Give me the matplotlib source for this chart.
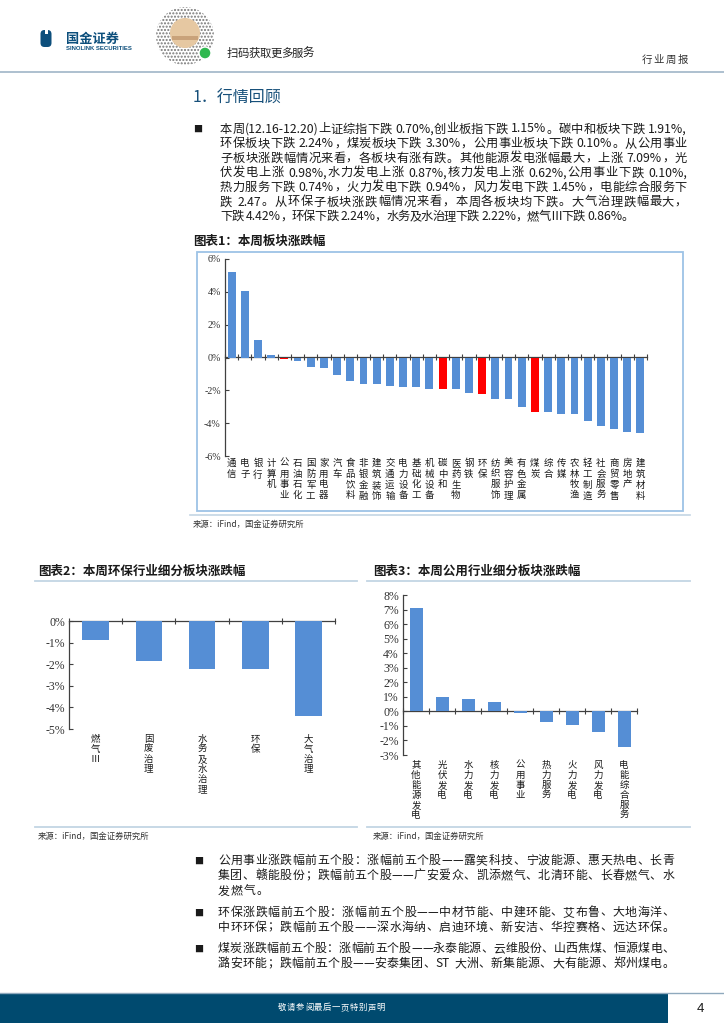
import numpy as np
import matplotlib
matplotlib.use('Agg')
import matplotlib.pyplot as plt
from matplotlib.patches import Rectangle, Circle, FancyBboxPatch

plt.rcParams['font.family'] = ['Noto Sans CJK SC', 'DejaVu Sans']

# 图表1：本周板块涨跌幅（%）
cats1 = ['通信', '电子', '银行', '计算机', '公用事业', '石油石化', '国防军工', '家用电器',
         '汽车', '食品饮料', '非银金融', '建筑装饰', '交通运输', '电力设备', '基础化工', '机械设备',
         '碳中和', '医药生物', '钢铁', '环保', '纺织服饰', '美容护理', '有色金属', '煤炭',
         '综合', '传媒', '农林牧渔', '轻工制造', '社会服务', '商贸零售', '房地产', '建筑材料']
vals1 = [5.18, 4.04, 1.06, 0.18, -0.10, -0.20, -0.57, -0.67,
         -1.06, -1.41, -1.61, -1.62, -1.76, -1.78, -1.82, -1.90,
         -1.91, -1.94, -2.18, -2.24, -2.51, -2.53, -2.99, -3.30,
         -3.34, -3.42, -3.43, -3.89, -4.19, -4.33, -4.55, -4.62]
hot1 = ['公用事业', '碳中和', '环保', '煤炭']

# 图表2：环保细分板块
cats2 = ['燃气Ⅲ', '固废治理', '水务及水治理', '环保', '大气治理']
vals2 = [-0.86, -1.83, -2.22, -2.24, -4.42]

# 图表3：公用细分板块
cats3 = ['其他能源发电', '光伏发电', '水力发电', '核力发电', '公用事业',
         '热力服务', '火力发电', '风力发电', '电能综合服务']
vals3 = [7.09, 0.98, 0.87, 0.62, -0.10, -0.74, -0.94, -1.45, -2.47]

para1 = ['本周(12.16-12.20)上证综指下跌 0.70%,创业板指下跌 1.15%。碳中和板块下跌 1.91%,',
         '环保板块下跌 2.24%，煤炭板块下跌 3.30%，公用事业板块下跌 0.10%。从公用事业',
         '子板块涨跌幅情况来看，各板块有涨有跌。其他能源发电涨幅最大，上涨 7.09%，光',
         '伏发电上涨 0.98%,水力发电上涨 0.87%,核力发电上涨 0.62%,公用事业下跌 0.10%,',
         '热力服务下跌 0.74%，火力发电下跌 0.94%，风力发电下跌 1.45%，电能综合服务下',
         '跌 2.47。从环保子板块涨跌幅情况来看，本周各板块均下跌。大气治理跌幅最大，',
         '下跌 4.42%，环保下跌 2.24%，水务及水治理下跌 2.22%，燃气Ⅲ下跌 0.86%。']
bullets = [
    ['公用事业涨跌幅前五个股：涨幅前五个股——露笑科技、宁波能源、惠天热电、长青',
     '集团、赣能股份；跌幅前五个股——广安爱众、凯添燃气、北清环能、长春燃气、水',
     '发燃气。'],
    ['环保涨跌幅前五个股：涨幅前五个股——中材节能、中建环能、艾布鲁、大地海洋、',
     '中环环保；跌幅前五个股——深水海纳、启迪环境、新安洁、华控赛格、远达环保。'],
    ['煤炭涨跌幅前五个股：涨幅前五个股——永泰能源、云维股份、山西焦煤、恒源煤电、',
     '潞安环能；跌幅前五个股——安泰集团、ST 大洲、新集能源、大有能源、郑州煤电。'],
]

W, H = 724, 1024
BLUE = '#558ed5'
NAVY = '#004a6f'
TXT = '#1a1a1a'
LINE = '#c3d5e4'

fig = plt.figure(figsize=(7.24, 10.24), dpi=100)
page = fig.add_axes([0, 0, 1, 1], zorder=0)
page.set_xlim(0, W)
page.set_ylim(H, 0)
page.axis('off')
renderer = fig.canvas.get_renderer()


def tokens(s):
    out, buf = [], ''
    for ch in s:
        if ord(ch) < 128 and ch != ' ':
            buf += ch
        else:
            if buf:
                out.append(buf)
                buf = ''
            out.append(ch)
    if buf:
        out.append(buf)
    return out


def line(s, x0, x1, y, size, color=TXT, **kw):
    # 两端对齐：逐字排布
    parts = tokens(s)
    objs, widths = [], []
    for p in parts:
        if p == ' ':
            objs.append(None)
            widths.append(size * 0.3 * 100 / 72)
        else:
            t = page.text(0, y, p, fontsize=size, color=color, va='baseline', ha='left', **kw)
            objs.append(t)
            widths.append(t.get_window_extent(renderer).width)
    gap = (x1 - x0 - sum(widths)) / max(len(parts) - 1, 1)
    x = x0
    for t, w in zip(objs, widths):
        if t is not None:
            t.set_x(x)
        x += w + gap


# ---- 页眉 ----
page.add_patch(FancyBboxPatch((40.5, 30), 11, 17, boxstyle='round,pad=0,rounding_size=4',
                              fc='#0d4f7c', ec='none'))
page.add_patch(Rectangle((44.5, 29), 3, 5, fc='white', ec='none'))
page.text(66, 43, '国金证券', fontsize=9.5, fontweight='bold', color='#0d4f7c', va='baseline')
page.text(66, 50, 'SINOLINK SECURITIES', fontsize=4.3, fontweight='bold', color='#0d4f7c',
          va='baseline', family='Liberation Sans')
page.add_patch(Circle((185, 36), 29, fc='white', ec='#777777', hatch='.....', lw=0))
page.add_patch(Circle((185, 33), 15, fc='#e6c8a2', ec='none'))
page.add_patch(Rectangle((172, 36), 26, 4, fc='#c9a27a', ec='none'))
page.add_patch(Circle((205, 53), 6, fc='#2fb84f', ec='white', lw=1))
line('扫码获取更多服务', 227, 314, 57, 8.2, color='#222222')
line('行业周报', 642, 688, 63, 7.5, color='#333333')
page.plot([0, W], [72, 72], color='#9fb5c7', lw=1.2)

# ---- 正文 ----
page.text(193, 102.5, '1．行情回顾', fontsize=11.5, color='#17507a', va='baseline')
page.text(193, 132, '■', fontsize=6.5, color=TXT, va='baseline')
for i, s in enumerate(para1):
    x1 = 634 if i == len(para1) - 1 else 687
    line(s, 220, x1, 132.5 + i * 14.6, 8.8)

# ---- 图表1 ----
page.text(193, 245, '图表1：本周板块涨跌幅', fontsize=9, fontweight='bold', color=TXT,
          va='baseline', style='italic')
page.add_patch(Rectangle((197, 252), 486, 259, fc='none', ec='#9dc3e6', lw=1.3))
page.plot([190, 690], [515, 515], color=LINE, lw=1.2)
page.text(193, 527, '来源：iFind，国金证券研究所', fontsize=6, color='#333333', va='baseline')


def bar_chart(rect, cats, vals, colors, ylim, step, tsize, lsize, lpad, width, lsp):
    l, t, r, b = rect
    ax = fig.add_axes([l / W, 1 - b / H, (r - l) / W, (b - t) / H], zorder=2)
    ax.patch.set_alpha(0)
    n = len(cats)
    ax.bar(range(n), vals, width=width, color=colors, zorder=3)
    ax.set_xlim(-0.5, n - 0.5)
    ax.set_ylim(*ylim)
    ax.set_yticks(np.arange(ylim[0], ylim[1] + step / 2, step))
    ax.yaxis.set_major_formatter(lambda v, p: f'{int(round(v))}%')
    for s in ['top', 'right', 'bottom']:
        ax.spines[s].set_visible(False)
    ax.spines['left'].set_color('#404040')
    ax.spines['left'].set_linewidth(0.9)
    ax.set_xticks(range(n), ['\n'.join(c) for c in cats])
    ax.tick_params(axis='x', length=0, pad=lpad, labelsize=lsize, labelcolor=TXT)
    ax.tick_params(axis='y', direction='in', length=3, width=0.8, labelsize=tsize,
                   color='#404040', labelcolor='#333333', pad=3)
    for lab in ax.get_yticklabels():
        lab.set_fontfamily('Liberation Serif')
    for lab in ax.get_xticklabels():
        lab.set_linespacing(lsp)
        lab.set_verticalalignment('top')
    zero = (0 - ylim[0]) / (ylim[1] - ylim[0])
    sec = ax.secondary_xaxis(zero)
    bounds = np.arange(-0.5, n, 1.0)
    sec.set_xticks(bounds, labels=[''] * len(bounds))
    sec.tick_params(axis='x', direction='inout', length=4, width=0.8, color='#404040',
                    labelbottom=False, labeltop=False)
    for s in sec.spines.values():
        s.set_color('#404040')
        s.set_linewidth(0.9)
    return ax


colors1 = ['#ff0000' if c in hot1 else BLUE for c in cats1]
bar_chart((225, 259, 647, 456), cats1, vals1, colors1, (-6, 6), 2, 7.2, 6.8, 2, 0.6, 1.25)

# ---- 图表2、3 ----
page.text(38, 575, '图表2：本周环保行业细分板块涨跌幅', fontsize=9, fontweight='bold', color=TXT,
          va='baseline', style='italic')
page.text(373, 575, '图表3：本周公用行业细分板块涨跌幅', fontsize=9, fontweight='bold', color=TXT,
          va='baseline', style='italic')
for xa, xb in [(35, 357), (367, 690)]:
    page.plot([xa, xb], [581, 581], color=LINE, lw=1.3)
    page.plot([xa, xb], [827, 827], color=LINE, lw=1.3)
page.text(38, 839, '来源：iFind，国金证券研究所', fontsize=6, color='#333333', va='baseline')
page.text(373, 839, '来源：iFind，国金证券研究所', fontsize=6, color='#333333', va='baseline')

bar_chart((69, 621, 335, 729), cats2, vals2, BLUE, (-5, 0), 1, 8.5, 6.8, 4, 0.5, 1.15)
bar_chart((403, 595, 637, 755), cats3, vals3, BLUE, (-3, 8), 1, 8.5, 6.8, 4, 0.5, 1.15)

# ---- 底部要点 ----
y0 = 864
for para in bullets:
    page.text(194, y0, '■', fontsize=6.5, color=TXT, va='baseline')
    for j, s in enumerate(para):
        last = j == len(para) - 1 and len(s) < 20
        x1 = 218 + len(s) * 12.6 if last else 674
        line(s, 218, x1, y0 + j * 15.2, 8.6)
    y0 += len(para) * 15.2 + 6

# ---- 页脚 ----
page.plot([0, W], [992.5, 992.5], color='#8fa9bd', lw=1)
page.add_patch(Rectangle((0, 993), 668, 30, fc=NAVY, ec='none'))
line('敬请参阅最后一页特别声明', 278, 385, 1010, 6, color='white')
page.text(700, 1012, '4', fontsize=9.5, color=TXT, ha='center', va='baseline',
          family='Liberation Sans')

fig.savefig('out.png', dpi=100)
